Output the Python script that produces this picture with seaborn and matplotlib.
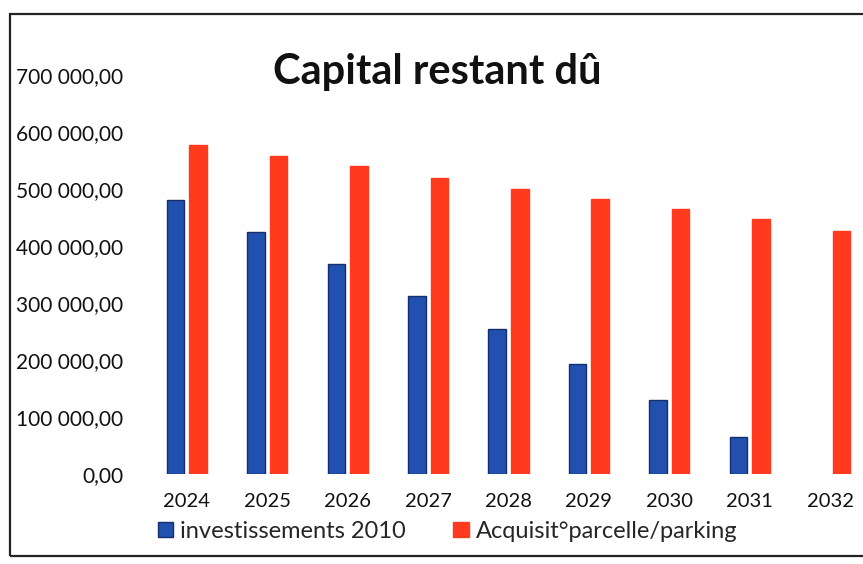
import matplotlib
matplotlib.use("Agg")
import matplotlib.pyplot as plt
import matplotlib.patches as mpatches
import matplotlib.ticker as mticker
import seaborn as sns
import pandas as pd

years = ["2024", "2025", "2026", "2027", "2028", "2029", "2030", "2031", "2032"]
invest_2010 = [480000, 425000, 368000, 312000, 254000, 193000, 130000, 65000, 0]
acquisit = [577000, 558000, 540000, 520000, 500000, 483000, 465000, 447000, 426000]
series_names = ["investissements 2010", "Acquisit°parcelle/parking"]
title = "Capital restant dû"

df = pd.DataFrame({
    "year": years * 2,
    "value": invest_2010 + acquisit,
    "serie": [series_names[0]] * len(years) + [series_names[1]] * len(years),
})

sns.set_theme(style="white")
plt.rcParams["font.family"] = ["Lato", "DejaVu Sans"]

blue = "#2150AE"
red = "#FF3A1E"

fig = plt.figure(figsize=(8.63, 5.64), dpi=100)
ax = fig.add_axes([0.170, 0.160, 0.830, 0.707])

sns.barplot(data=df, x="year", y="value", hue="serie", palette=[blue, red],
            width=0.56, gap=0.22, ax=ax, legend=False, saturation=1)
for p, c in zip(ax.patches, [blue] * 9 + [red] * 9):
    p.set_edgecolor("#142e6e" if c == blue else red)
    p.set_linewidth(1.0 if p.get_height() > 0 else 0)

ax.set_xlim(-0.5, 8.41)
ax.set_ylim(0, 700000)
ax.yaxis.set_major_locator(mticker.MultipleLocator(100000))
ax.yaxis.set_major_formatter(mticker.FuncFormatter(
    lambda v, pos: f"{v:,.2f}".replace(",", " ").replace(".", ",")))
for s in ax.spines.values():
    s.set_visible(False)
ax.set_xlabel("")
ax.set_ylabel("")
ax.tick_params(axis="y", length=0, pad=17, labelsize=15, labelcolor="#111111")
ax.tick_params(axis="x", length=0, pad=14, labelsize=14.5, labelcolor="#111111")

fig.text(0.507, 0.872, title, ha="center", va="center", fontsize=30,
         fontweight="bold", color="#111111")

handles = [mpatches.Patch(facecolor=blue, edgecolor="#142e6e", label=series_names[0]),
           mpatches.Patch(facecolor=red, edgecolor=red, label=series_names[1])]
fig.legend(handles=handles, loc="center left", bbox_to_anchor=(0.183, 0.058),
           ncol=2, frameon=False, fontsize=17, handlelength=0.65, handleheight=0.65,
           handletextpad=0.3, columnspacing=2.0, borderaxespad=0, borderpad=0)

frame = mpatches.Rectangle((10 / 863, 1 - 556 / 564), 1.0, (556 - 14) / 564,
                           transform=fig.transFigure, fill=False,
                           edgecolor="#222222", linewidth=1.6, clip_on=False)
fig.patches.append(frame)

fig.savefig("out.png", dpi=100)
